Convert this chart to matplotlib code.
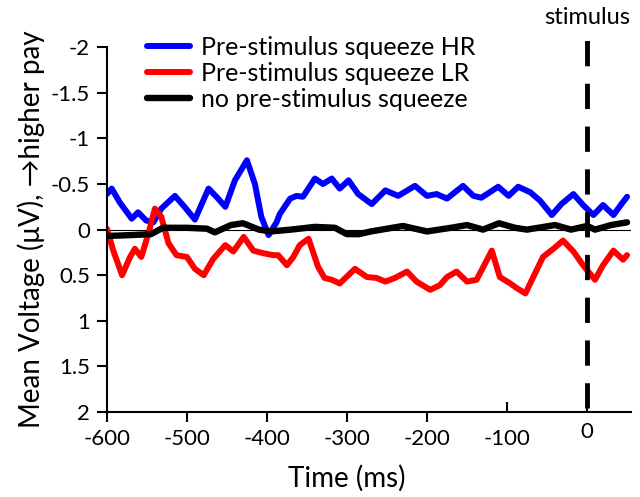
import matplotlib
matplotlib.use('Agg')
import matplotlib.pyplot as plt
import matplotlib.transforms as mtransforms

# time (ms) and mean voltage (uV) for each condition
t_hr = [-600, -594, -584, -569, -561, -551, -542, -532, -515, -503, -490, -473, -463,
        -452, -440, -425, -415, -407, -398, -388, -384, -371, -363, -355, -340, -330,
        -319, -309, -298, -286, -269, -252, -236, -215, -200, -188, -175, -155, -142,
        -132, -111, -98, -86, -71, -59, -44, -32, -17, -5, 8, 20, 33, 43, 50]
v_hr = [-0.39, -0.45, -0.30, -0.12, -0.19, -0.10, -0.08, -0.23, -0.37, -0.25, -0.11,
        -0.45, -0.36, -0.25, -0.54, -0.76, -0.50, -0.14, 0.06, -0.08, -0.17, -0.34,
        -0.37, -0.36, -0.56, -0.50, -0.56, -0.45, -0.54, -0.39, -0.28, -0.43, -0.37,
        -0.48, -0.37, -0.39, -0.34, -0.48, -0.37, -0.35, -0.47, -0.37, -0.47, -0.41,
        -0.32, -0.16, -0.28, -0.39, -0.27, -0.16, -0.27, -0.16, -0.28, -0.36]

t_lr = [-600, -592, -581, -571, -565, -557, -548, -540, -532, -523, -513, -500, -490,
        -479, -467, -452, -442, -429, -417, -404, -392, -386, -375, -367, -359, -348,
        -336, -328, -319, -309, -290, -275, -263, -252, -240, -225, -213, -196, -184,
        -175, -163, -150, -138, -119, -109, -96, -88, -77, -65, -55, -42, -30, -17,
        -5, 10, 20, 33, 45, 50]
v_lr = [-0.01, 0.23, 0.50, 0.30, 0.21, 0.30, 0.04, -0.23, -0.14, 0.15, 0.28, 0.30,
        0.43, 0.50, 0.32, 0.17, 0.24, 0.08, 0.23, 0.26, 0.28, 0.28, 0.39, 0.30, 0.17,
        0.10, 0.41, 0.53, 0.55, 0.59, 0.43, 0.52, 0.53, 0.57, 0.53, 0.46, 0.57, 0.66,
        0.61, 0.52, 0.46, 0.57, 0.55, 0.23, 0.52, 0.59, 0.64, 0.70, 0.48, 0.30, 0.21,
        0.12, 0.24, 0.39, 0.55, 0.39, 0.23, 0.33, 0.28]

t_no = [-600, -570, -545, -530, -500, -475, -465, -445, -430, -410, -395, -370, -340,
        -315, -300, -285, -270, -250, -230, -200, -170, -150, -130, -110, -90, -75,
        -40, -20, 0, 10, 30, 50]
v_no = [0.07, 0.06, 0.05, -0.02, -0.02, -0.01, 0.03, -0.05, -0.07, 0.00, 0.02, 0.00,
        -0.03, -0.02, 0.05, 0.05, 0.02, -0.01, -0.04, 0.02, -0.02, -0.05, 0.00, -0.07,
        -0.02, 0.00, -0.05, 0.00, -0.04, 0.00, -0.05, -0.08]

labels = ['Pre-stimulus squeeze HR', 'Pre-stimulus squeeze LR', 'no pre-stimulus squeeze']
colors = ['#0000ff', '#ff0000', '#000000']

plt.rcParams['font.family'] = ['Lato', 'DejaVu Sans']

fig = plt.figure(figsize=(6.4, 4.97), dpi=100)
ax = fig.add_axes([0.167, 0.171, 0.819, 0.734])

ax.axhline(0, color='black', lw=0.8, zorder=1)
ax.plot(t_hr, v_hr, color=colors[0], lw=4.3, label=labels[0], solid_capstyle='round')
ax.plot(t_lr, v_lr, color=colors[1], lw=4.3, label=labels[1], solid_capstyle='round')
ax.plot(t_no, v_no, color=colors[2], lw=4.6, label=labels[2], solid_capstyle='round')

ax.axvline(0, ymin=0.01, ymax=1.035, color='black', lw=3.5,
           linestyle=(0, (5.2, 3.6)), clip_on=False, zorder=5)
trans = mtransforms.blended_transform_factory(ax.transData, fig.transFigure)
ax.text(0, 1 - 18 / 497, 'stimulus', transform=trans, ha='center', va='center',
        fontsize=17)

ax.set_xlim(-600, 55)
ax.set_ylim(2, -2)
ax.set_yticks([-2, -1.5, -1, -0.5, 0, 0.5, 1, 1.5, 2])
ax.set_yticklabels(['-2', '-1.5', '-1', '-0.5', '0', '0.5', '1', '1.5', '2'])
ax.set_xticks([-600, -500, -400, -300, -200])
ax.set_xticklabels(['-600', '-500', '-400', '-300', '-200'])
ax.set_xticks([-100, 0], minor=True)
ax.set_xticklabels(['-100', '0'], minor=True)

ax.tick_params(axis='both', which='major', direction='out', length=7, width=1.5,
               labelsize=16, pad=5)
ax.tick_params(axis='x', which='minor', direction='in', length=7, width=1.5,
               labelsize=16, pad=12)
for s in ['top', 'right']:
    ax.spines[s].set_visible(False)
for s in ['left', 'bottom']:
    ax.spines[s].set_linewidth(1.5)

# lift the "0" label a little, like in the original
zero_lab = ax.xaxis.get_minorticklabels()[1]
zero_lab.set_transform(zero_lab.get_transform() +
                       mtransforms.ScaledTranslation(0, 5/72, fig.dpi_scale_trans))

ax.set_xlabel('Time (ms)', fontsize=20)
ax.xaxis.set_label_coords(300 / 655, -0.145)
ax.set_ylabel('Mean Voltage (\u03bcV), \u2192higher pay', fontsize=20, labelpad=4)

ax.legend(loc='upper left', bbox_to_anchor=(147 / 640, 1 - 36 / 497),
          bbox_transform=fig.transFigure, frameon=False, fontsize=18,
          handlelength=1.7, handletextpad=0.45, labelspacing=0.12, borderpad=0,
          borderaxespad=0)

fig.savefig('out.png', dpi=100)
